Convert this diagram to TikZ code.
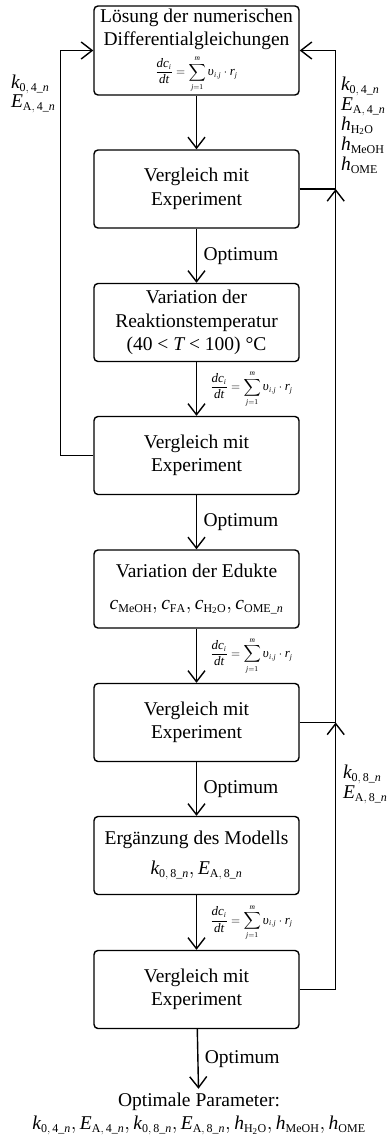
\documentclass[tikz,border=0pt]{standalone}
\usepackage{amsmath}
\usepackage{mathspec}
\setmainfont{Liberation Serif}
\setmathsfont(Digits,Latin,Greek){Liberation Serif}
\setmathrm{Liberation Serif}
\usetikzlibrary{arrows.meta}
\DeclareMathSizes{19.5}{19.5}{12}{9}
\DeclareMathSizes{13}{13}{7.5}{6}
\newcommand{\rate}{{\fontsize{13}{14}\selectfont$\displaystyle\frac{dc_i}{dt}=\sum_{j=1}^{m}\upsilon_{i,j}\cdot r_j$}}
\begin{document}
\begin{tikzpicture}[x=1pt,y=-1pt,
  stage/.style={draw,line width=1.4pt,rounded corners=4pt,minimum width=205pt,minimum height=78pt,align=center,inner sep=0pt,font=\fontsize{19.5}{23.5}\selectfont},
  flow/.style={line width=1.4pt,-{Straight Barb[length=11pt,width=17pt]}},
  lbl/.style={inner sep=0pt,outer sep=0pt,font=\fontsize{19.5}{23.5}\selectfont},
  side/.style={inner sep=0pt,outer sep=0pt,anchor=base west,font=\fontsize{19.5}{23.5}\selectfont}]
\path[use as bounding box] (0,0) rectangle (387,1141);
% stages
\node[stage,minimum height=89pt] (s1) at (196.5,50.5) {Lösung der numerischen\\Differentialgleichungen\\[5pt]\rate};
\node[stage] (c1) at (196.5,189) {Vergleich mit\\Experiment};
\node[stage] (s2) at (196.5,322.5) {Variation der\\Reaktionstemperatur\\(40 < $T$ < 100) °C};
\node[stage] (c2) at (196.5,455.5) {Vergleich mit\\Experiment};
\node[stage] (s3) at (196.5,589) {Variation der Edukte\\[8pt]$c_{\mathrm{MeOH}}, c_{\mathrm{FA}}, c_{\mathrm{H_2O}}, c_{\mathrm{OME}\_n}$};
\node[stage] (c3) at (196.5,722.5) {Vergleich mit\\Experiment};
\node[stage] (s4) at (196.5,855.5) {Ergänzung des Modells\\[6pt]$k_{0,\,8\_n}, E_{\mathrm{A},\,8\_n}$};
\node[stage] (c4) at (196.5,989.5) {Vergleich mit\\Experiment};
\node[lbl,align=center,outer sep=4pt] (res) at (199,1114) {Optimale Parameter:\\$k_{0,\,4\_n}, E_{\mathrm{A},\,4\_n}, k_{0,\,8\_n}, E_{\mathrm{A},\,8\_n}, h_{\mathrm{H_2O}}, h_{\mathrm{MeOH}}, h_{\mathrm{OME}}$};
% main flow
\draw[flow] (s1) -- (c1);
\draw[flow] (c1) -- node[lbl,anchor=west,xshift=7pt] (o1) {Optimum} (s2);
\draw[flow] (s2) -- node[lbl,anchor=west,xshift=14pt] (r1) {\rate} (c2);
\draw[flow] (c2) -- node[lbl,anchor=west,xshift=7pt] (o2) {Optimum} (s3);
\draw[flow] (s3) -- node[lbl,anchor=west,xshift=14pt] (r2) {\rate} (c3);
\draw[flow] (c3) -- node[lbl,anchor=west,xshift=7pt] (o3) {Optimum} (s4);
\draw[flow] (s4) -- node[lbl,anchor=west,xshift=14pt] (r3) {\rate} (c4);
\draw[flow] (c4) -- node[lbl,anchor=west,xshift=7pt] (o4) {Optimum} (res);
% feedback loops
\coordinate (j1) at ([xshift=36pt]c1.east);
\coordinate (j3) at ([xshift=36pt]c3.east);
\draw[flow] (c2.west) -- ++(-33,0) |- (s1.west);
\draw[flow] (c1.east) -- (j1) |- (s1.east);
\draw[flow] (c3.east) -| (j1);
\draw[flow] (c4.east) -| (j3);
% parameters
\node[side] (pl1) at (11,88) {$k_{0,\,4\_n}$};
\node[side] (pl2) at (11,107) {$E_{\mathrm{A},\,4\_n}$};
\node[side] (pr1) at (341,90) {$k_{0,\,4\_n}$};
\node[side] (pr2) at (341,110) {$E_{\mathrm{A},\,4\_n}$};
\node[side] (pr3) at (341,130) {$h_{\mathrm{H_2O}}$};
\node[side] (pr4) at (341,150) {$h_{\mathrm{MeOH}}$};
\node[side] (pr5) at (341,170) {$h_{\mathrm{OME}}$};
\node[side] (pq1) at (343,778) {$k_{0,\,8\_n}$};
\node[side] (pq2) at (343,798) {$E_{\mathrm{A},\,8\_n}$};
\end{tikzpicture}
\end{document}
